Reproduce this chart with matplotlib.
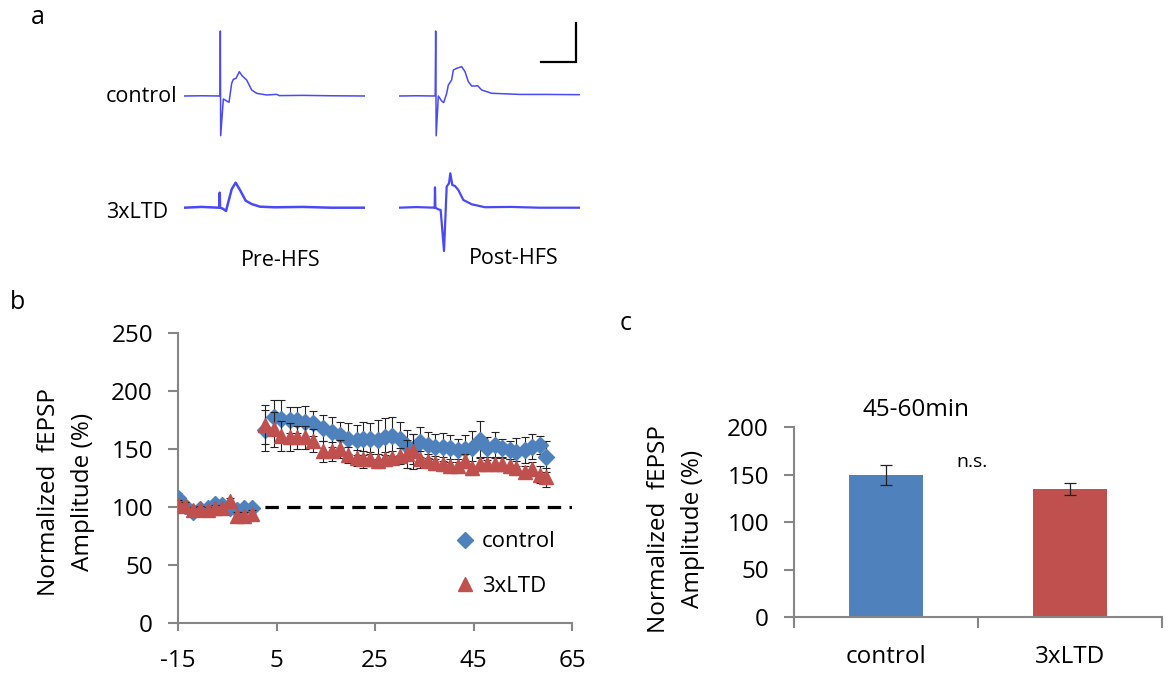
import matplotlib
matplotlib.use("Agg")
import matplotlib.pyplot as plt
from matplotlib.lines import Line2D

plt.rcParams['font.family'] = ['Open Sans', 'DejaVu Sans']
plt.rcParams['axes.unicode_minus'] = False

# ---------------- data: panel a traces (time in ms, amplitude in mV rel. baseline)
pre_ctrl_t = [0, 2.5, 5.1, 5.15, 5.19, 5.24, 5.62, 6.1, 6.43, 6.81, 7.05, 7.43, 7.9,
              8.29, 8.95, 9.67, 10.38, 11.81, 13.24, 13.6, 17.0, 21.0, 25.86]
pre_ctrl_v = [0, 0.003, 0, 0.005, 0.833, -0.509, -0.038, -0.064, -0.081, 0.162, 0.214,
              0.226, 0.312, 0.261, 0.205, 0.077, 0.034, 0.013, 0.021, 0.005, 0.008, 0.003, 0]

post_ctrl_t = [0, 2.5, 5.1, 5.17, 5.24, 5.31, 5.62, 6.1, 6.38, 6.81, 7.05, 7.52, 7.76,
               8.24, 8.95, 9.43, 9.9, 10.38, 10.86, 11.24, 11.81, 13.24, 17.3, 21.0, 25.86]
post_ctrl_v = [0, 0.003, 0, 0.005, 0.833, -0.51, 0.0, -0.064, -0.085, 0.034, 0.141, 0.205,
               0.333, 0.355, 0.376, 0.312, 0.184, 0.128, 0.128, 0.132, 0.077, 0.035, 0.02,
               0.02, 0.017]

pre_ltd_t = [0, 2.5, 5.0, 5.05, 5.1, 5.15, 5.5, 6.0, 6.81, 7.38, 8.0, 8.81, 9.67, 10.86,
             13.0, 17.0, 21.0, 25.86]
pre_ltd_v = [0, 0.01, 0, 0.005, 0.192, 0.0, -0.01, -0.042, 0.236, 0.321, 0.227, 0.09,
             0.047, 0.013, 0.005, 0.01, 0.0, 0]

post_ltd_t = [0, 2.5, 5.05, 5.1, 5.14, 5.2, 5.62, 5.95, 6.43, 6.81, 7.14, 7.33, 7.62, 8.0,
              8.48, 9.19, 10.38, 12.29, 16.0, 20.0, 25.86]
post_ltd_v = [0, 0.008, 0, 0.005, 0.261, 0.0, -0.021, -0.029, -0.555, 0.27, 0.312, 0.441,
              0.291, 0.278, 0.227, 0.099, 0.044, 0.006, 0.01, 0.0, 0]

trace_row_labels = ['control', '3xLTD']
trace_col_labels = ['Pre-HFS', 'Post-HFS']

# ---------------- data: panel b time course
t_base = [-15, -13.5, -12, -10.5, -9, -7.5, -6, -4.5, -3, -1.5, 0]
t_post = [2.7, 4.4, 6.0, 7.7, 9.1, 10.8, 12.5, 14.5, 16.2, 17.9, 19.6, 21.3, 22.6, 24.0,
          25.7, 27.0, 28.5, 30.1, 31.5, 32.8, 34.1, 35.8, 37.2, 38.9, 40.2, 41.9, 43.3,
          44.6, 46.3, 47.7, 49.4, 50.7, 52.4, 53.7, 55.4, 56.8, 58.5, 59.8]

ctrl_base = [108, 101, 95.5, 98, 99, 103, 102, 99, 97, 99, 99]
ctrl_post = [166, 178, 176, 175, 175, 173.5, 172, 168, 165, 162, 159, 158, 159, 159, 158,
             160.5, 161, 159, 153, 150, 156, 153.5, 152, 152, 150.5, 149, 150, 150.5, 158,
             150.5, 153.5, 150.5, 149, 147.5, 149, 152, 153.5, 143.5]
ctrl_base_err = [4, 3, 3, 3, 3, 3, 3, 3, 3, 3, 3]
ctrl_post_err = [18, 14, 16, 11, 11, 14, 11, 11.5, 13, 11, 13, 13, 14, 13, 17, 16, 17, 14,
                 13, 13, 13, 11.5, 11, 12, 12, 10, 12, 15, 16, 10, 11, 8, 8, 12, 11, 11, 8,
                 13.5]

ltd_base = [102, 101, 97, 98, 97, 99, 99, 105, 92.5, 92.5, 94]
ltd_post = [171, 167, 161, 160, 160, 160, 157, 148, 148, 150, 145, 142.5, 141, 141, 140,
            141.5, 142, 144, 145.5, 148, 141, 140, 138, 137, 135.5, 135.5, 139.5, 134, 137,
            137, 137, 137, 135.5, 134, 130, 132.5, 128, 125.5]
ltd_base_err = [4, 3, 3, 3, 3, 3, 3, 3, 3, 3, 3]
ltd_post_err = [17, 15, 13, 12, 10, 10, 10, 9, 8, 8, 7, 7, 7, 6, 6, 6, 6, 7, 12, 15, 7, 6,
                6, 6, 6, 6, 6, 6, 6, 6, 6, 6, 6, 6, 5, 6, 7, 8]

series_names = ['control', '3xLTD']
b_xticks = [-15, 5, 25, 45, 65]
b_yticks = [0, 50, 100, 150, 200, 250]
baseline_level = 100

# ---------------- data: panel c bars
bar_categories = ['control', '3xLTD']
bar_means = [149.5, 135]
bar_errs = [10.5, 6.5]
c_yticks = [0, 50, 100, 150, 200]
c_title = '45-60min'
c_sig = 'n.s.'

# ---------------- styling
W, H, DPI = 1174, 675, 100
BLUE = '#4F81BD'
RED = '#C0504D'
TRACE = '#3535F5'
AXIS_GRAY = '#868686'
FS = 17.5
YLAB = 'Normalized  fEPSP\nAmplitude (%)'

fig = plt.figure(figsize=(W / DPI, H / DPI), dpi=DPI)


def px_axes(x0, y0, x1, y1):
    return fig.add_axes([x0 / W, 1 - y1 / H, (x1 - x0) / W, (y1 - y0) / H])


def ftext(x, y, s, **kw):
    return fig.text(x / W, 1 - y / H, s, **kw)


# ---------------- panel a
PX_PER_MS = 7.0
PX_PER_MV = 78.0
T_LEN = 25.86


def trace_axes(x0, base_y, top_y, bot_y):
    ax = px_axes(x0, top_y, x0 + T_LEN * PX_PER_MS, bot_y)
    ax.set_xlim(0, T_LEN)
    ax.set_ylim(-(bot_y - base_y) / PX_PER_MV, (base_y - top_y) / PX_PER_MV)
    ax.axis('off')
    return ax


ax1 = trace_axes(184, 96, 10, 145)
ax1.plot(pre_ctrl_t, pre_ctrl_v, color=TRACE, lw=1.1, alpha=0.9)
ax2 = trace_axes(399, 96, 10, 145)
ax2.plot(post_ctrl_t, post_ctrl_v, color=TRACE, lw=1.1, alpha=0.9)
# scale bar: 5 ms, 0.5 mV
sb_t1 = (576 - 399) / PX_PER_MS
sb_v0 = (96 - 62) / PX_PER_MV
ax2.plot([sb_t1 - 5, sb_t1, sb_t1], [sb_v0, sb_v0, sb_v0 + 0.5], color='black', lw=1.6,
         clip_on=False, solid_joinstyle='miter')
ax3 = trace_axes(184, 207.7, 150, 262)
ax3.plot(pre_ltd_t, pre_ltd_v, color=TRACE, lw=1.8, alpha=0.9)
ax4 = trace_axes(399, 207.7, 150, 262)
ax4.plot(post_ltd_t, post_ltd_v, color=TRACE, lw=1.6, alpha=0.9)

ftext(106, 97, trace_row_labels[0], fontsize=15.5, ha='left', va='center')
ftext(106, 213, trace_row_labels[1], fontsize=15.5, ha='left', va='center')
ftext(281, 260, trace_col_labels[0], fontsize=15.5, ha='center', va='center')
ftext(514, 258, trace_col_labels[1], fontsize=15.5, ha='center', va='center')

ftext(38, 18, 'a', fontsize=18, ha='center', va='center')
ftext(17, 302, 'b', fontsize=18, ha='center', va='center')
ftext(626, 324, 'c', fontsize=18, ha='center', va='center')

# ---------------- panel b
axb = px_axes(178, 333, 572, 623)
t_all = t_base + t_post
ctrl_all = ctrl_base + ctrl_post
ctrl_err_all = ctrl_base_err + ctrl_post_err
ltd_all = ltd_base + ltd_post
ltd_err_all = ltd_base_err + ltd_post_err

axb.axhline(baseline_level, color='black', lw=2.3, dashes=(4.2, 2.6), zorder=1)
axb.errorbar(t_all, ctrl_all, yerr=ctrl_err_all, fmt='D', color=BLUE, ms=8.5,
             mec=BLUE, ecolor='#222222', elinewidth=0.8, capsize=3.2, capthick=0.8,
             zorder=3)
axb.errorbar(t_all, ltd_all, yerr=ltd_err_all, fmt='^', color=RED, ms=10.5,
             mec=RED, ecolor='#222222', elinewidth=0.8, capsize=3.2, capthick=0.8,
             zorder=4)
axb.set_xlim(b_xticks[0], b_xticks[-1])
axb.set_ylim(b_yticks[0], b_yticks[-1])
axb.set_xticks(b_xticks)
axb.set_yticks(b_yticks)
for s in ['top', 'right']:
    axb.spines[s].set_visible(False)
for s in ['left', 'bottom']:
    axb.spines[s].set_color(AXIS_GRAY)
    axb.spines[s].set_linewidth(1.5)
axb.spines['left'].set_zorder(0.5)
axb.tick_params(axis='both', direction='out', color=AXIS_GRAY, width=1.5,
                labelsize=FS)
axb.tick_params(axis='y', length=7, pad=11)
axb.tick_params(axis='x', length=6, pad=13)

ftext(66, 492, YLAB, fontsize=FS, rotation=90, ha='center', va='center',
      multialignment='center', linespacing=1.55)

handles = [Line2D([], [], marker='D', color=BLUE, ls='none', ms=8.5),
           Line2D([], [], marker='^', color=RED, ls='none', ms=10.5)]
axb.legend(handles, series_names, loc='center left', bbox_to_anchor=(454 / W, 1 - 564 / H),
           bbox_transform=fig.transFigure, frameon=False, fontsize=16, handlelength=1.0,
           handletextpad=0.25, labelspacing=1.05, borderpad=0, borderaxespad=0,
           numpoints=1)

# ---------------- panel c
axc = px_axes(794, 427, 1162, 617)
xpos = list(range(len(bar_categories)))
axc.bar(xpos, bar_means, width=0.4, color=[BLUE, RED], zorder=2)
axc.errorbar(xpos, bar_means, yerr=bar_errs, fmt='none', ecolor='#222222', elinewidth=0.9,
             capsize=4.3, capthick=0.9, zorder=3)
axc.set_xlim(-0.5, len(bar_categories) - 0.5)
axc.set_ylim(c_yticks[0], c_yticks[-1])
axc.set_yticks(c_yticks)
axc.set_xticks([i - 0.5 for i in range(len(bar_categories) + 1)])
axc.set_xticklabels([])
axc.set_xticks(xpos, minor=True)
axc.set_xticklabels(bar_categories, minor=True)
for s in ['top', 'right']:
    axc.spines[s].set_visible(False)
for s in ['left', 'bottom']:
    axc.spines[s].set_color(AXIS_GRAY)
    axc.spines[s].set_linewidth(1.5)
axc.tick_params(axis='both', which='major', direction='out', color=AXIS_GRAY, width=1.5,
                labelsize=FS, length=7)
axc.tick_params(axis='y', pad=11)
axc.tick_params(axis='x', which='major', length=8)
axc.tick_params(axis='x', which='minor', length=0, pad=20, labelsize=FS)

ftext(916, 410, c_title, fontsize=FS, ha='center', va='center')
ftext(972, 462, c_sig, fontsize=14, ha='center', va='center')
ftext(676, 529, YLAB, fontsize=FS, rotation=90, ha='center', va='center',
      multialignment='center', linespacing=1.55)

fig.savefig('out.png', dpi=DPI)
